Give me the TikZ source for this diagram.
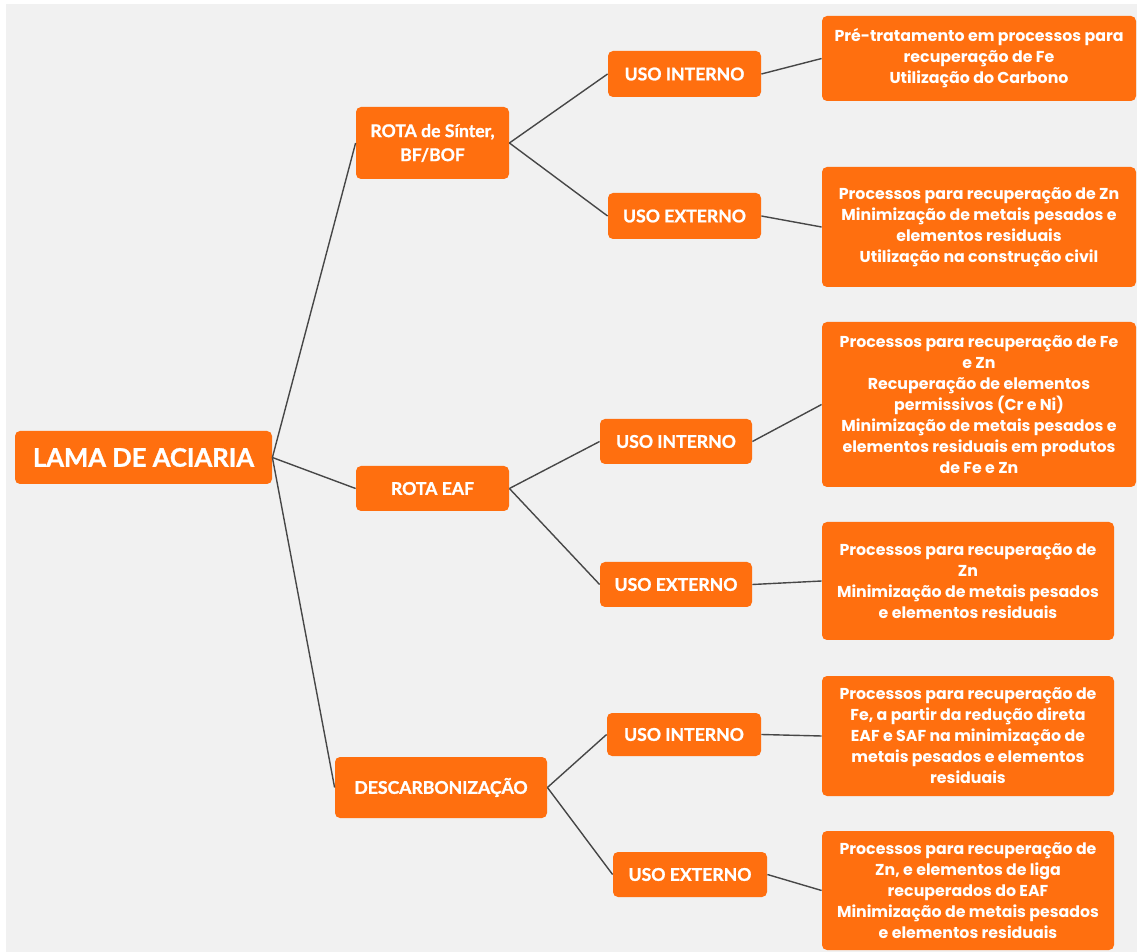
\documentclass[tikz,border=0pt]{standalone}
\usepackage{fontspec}
\setmainfont{Lato}[BoldFeatures={FakeBold=1.2}]
\newfontfamily\leaffont{Poppins}
\definecolor{laranja}{RGB}{255,111,15}
\definecolor{fundo}{RGB}{241,241,241}

\begin{document}
\begin{tikzpicture}[x=0.5pt, y=-0.5pt,
	caixa/.style={rectangle, rounded corners=2.5pt, fill=laranja, text=white, align=center, inner sep=0pt, font=\bfseries\fontsize{8.8}{12}\selectfont},
	folha/.style={caixa, font=\leaffont\bfseries\fontsize{7.9}{10.5}\selectfont},
	liga/.style={draw=black!72, line width=0.7pt}]
				% fundo
				\fill[white] (0,0) rectangle (1137,952);
				\fill[fundo] (6,4) rectangle (1137,952);
				% raiz e rotas
				\node[caixa, minimum width=128.5pt, minimum height=26.5pt, font=\bfseries\fontsize{12.8}{15}\selectfont] (lama)at(143.5, 457.5) {LAMA DE ACIARIA};
				\node[caixa, minimum width=76.5pt, minimum height=36pt] (sinter)at(432.5, 143) {ROTA de Sínter,\\BF/BOF};
				\node[caixa, minimum width=76.5pt, minimum height=22.5pt] (eaf)at(432.5, 488.5) {ROTA EAF};
				\node[caixa, minimum width=106pt, minimum height=30.5pt] (desc)at(441, 787.5) {DESCARBONIZAÇÃO};
				% usos
				\node[caixa, minimum width=76.5pt, minimum height=23pt] (int1)at(684.5, 74) {USO INTERNO};
				\node[caixa, minimum width=76.5pt, minimum height=23pt] (ext1)at(684.5, 216) {USO EXTERNO};
				\node[caixa, minimum width=76pt, minimum height=22.5pt] (int2)at(676, 441.5) {USO INTERNO};
				\node[caixa, minimum width=76pt, minimum height=22.5pt] (ext2)at(676, 584.5) {USO EXTERNO};
				\node[caixa, minimum width=77pt, minimum height=21.5pt] (int3)at(684, 734.5) {USO INTERNO};
				\node[caixa, minimum width=77pt, minimum height=22.5pt] (ext3)at(690, 874.5) {USO EXTERNO};
				% processos
				\node[folha, minimum width=157pt, minimum height=42.5pt] (p1)at(979, 58.5) {Pré-tratamento em processos para\\recuperação de Fe\\Utilização do Carbono};
				\node[folha, minimum width=157pt, minimum height=60pt] (p2)at(979, 227) {Processos para recuperação de Zn\\Minimização de metais pesados e\\elementos residuais\\Utilização na construção civil};
				\node[folha, minimum width=157pt, minimum height=82.5pt] (p3)at(979, 404.5) {Processos para recuperação de Fe\\e Zn\\Recuperação de elementos\\permissivos (Cr e Ni)\\Minimização de metais pesados e\\elementos residuais em produtos\\de Fe e Zn};
				\node[folha, minimum width=146pt, minimum height=59pt] (p4)at(968, 581) {Processos para recuperação de\\Zn\\Minimização de metais pesados\\e elementos residuais};
				\node[folha, minimum width=146pt, minimum height=60pt] (p5)at(968, 736) {Processos para recuperação de\\Fe, a partir da redução direta\\EAF e SAF na minimização de\\metais pesados e elementos\\residuais};
				\node[folha, minimum width=146pt, minimum height=59.5pt] (p6)at(968, 890.5) {Processos para recuperação de\\Zn, e elementos de liga\\recuperados do EAF\\Minimização de metais pesados\\e elementos residuais};
				% ligacoes
				\draw[liga] (lama.east) -- (sinter.west);
				\draw[liga] (lama.east) -- (eaf.west);
				\draw[liga] (lama.east) -- (desc.west);
				\draw[liga] (sinter.east) -- (int1.west);
				\draw[liga] (sinter.east) -- (ext1.west);
				\draw[liga] (eaf.east) -- (int2.west);
				\draw[liga] (eaf.east) -- (ext2.west);
				\draw[liga] (desc.east) -- (int3.west);
				\draw[liga] (desc.east) -- (ext3.west);
				\draw[liga] (int1.east) -- (p1.west);
				\draw[liga] (ext1.east) -- (p2.west);
				\draw[liga] (int2.east) -- (p3.west);
				\draw[liga] (ext2.east) -- (p4.west);
				\draw[liga] (int3.east) -- (p5.west);
				\draw[liga] (ext3.east) -- (p6.west);
			\end{tikzpicture}
\end{document}
